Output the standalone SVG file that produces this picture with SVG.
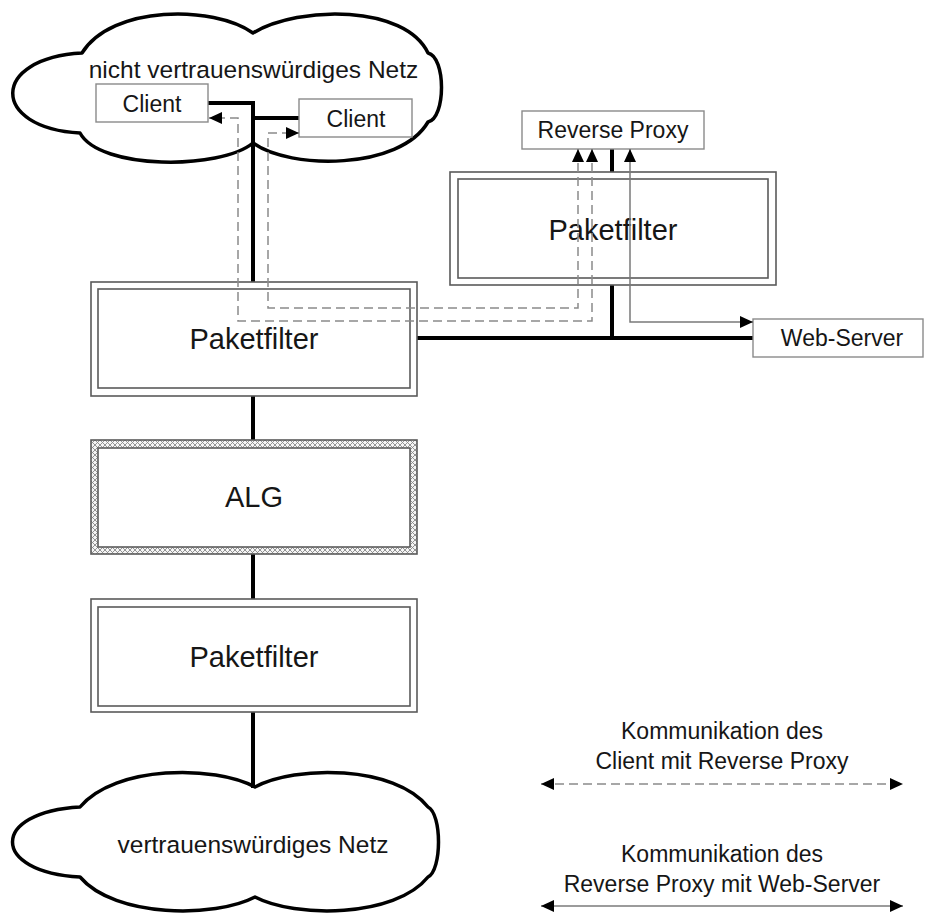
<svg xmlns="http://www.w3.org/2000/svg" width="926" height="916" viewBox="0 0 926 916">
<style>
text{font-family:"Liberation Sans",Arial,sans-serif;fill:#161616;text-anchor:middle}
.big{font-size:29px}
.sm{font-size:23px}
.cl{font-size:24.5px}
.cloud{fill:#fff;stroke:#000;stroke-width:3.5;stroke-linejoin:round}
.box{fill:#fff;stroke:#8a8a8a;stroke-width:1.4}
.frame{fill:#fff;stroke:#5a5a5a;stroke-width:1.6}
.thick{fill:none;stroke:#000;stroke-width:4}
.dash{fill:none;stroke:#8a8a8a;stroke-width:1.5;stroke-dasharray:9 5}
.thin{fill:none;stroke:#7a7a7a;stroke-width:1.5}
</style>
<defs>
<marker id="ah" viewBox="0 0 13 12" refX="13" refY="6" markerWidth="13" markerHeight="12" markerUnits="userSpaceOnUse" orient="auto-start-reverse">
<path d="M0,0 L13,6 L0,12 Z" fill="#000"/>
</marker>
<pattern id="hatch" width="5" height="5" patternUnits="userSpaceOnUse">
<rect width="5" height="5" fill="#f4f4f4"/>
<path d="M0,0 L5,5 M5,0 L0,5" stroke="#8a8a8a" stroke-width="0.9"/>
</pattern>
</defs>

<g id="cloud-untrusted">
<path class="cloud" d="M253,33 C213,5 112,5 82,53 C-10,58 -10,128 80,133 C100,170 220,170 253,143 C290,170 400,170 428,122 C446,118 446,57 428,53 C405,5 300,5 253,33 Z"/>
<text class="cl" x="253.5" y="78">nicht vertrauenswürdiges Netz</text>
</g>

<g id="cloud-trusted">
<path class="cloud" d="M255,787 C215,765 115,765 80,807 C-10,812 -10,872 80,877 C115,918 215,918 255,897 C295,918 395,918 428,877 C442,870 442,814 428,807 C395,765 295,765 255,787 Z"/>
<text class="cl" x="253" y="853">vertrauenswürdiges Netz</text>
</g>

<g id="connectors">
<path class="thick" d="M208,103 H253 V282"/>
<path class="thick" d="M253,118 H299"/>
<path class="thick" d="M253,396 V440"/>
<path class="thick" d="M253,554 V599"/>
<path class="thick" d="M253,712 V788"/>
<path class="thick" d="M612,149 V172"/>
<path class="thick" d="M612,285 V338"/>
<path class="thick" d="M417,338 H753"/>
</g>

<g id="client-1">
<rect class="box" x="96" y="84" width="112" height="38"/>
<text class="sm" x="152" y="112">Client</text>
</g>
<g id="client-2">
<rect class="box" x="299" y="99" width="113" height="38"/>
<text class="sm" x="356" y="127">Client</text>
</g>
<g id="reverse-proxy">
<rect class="box" x="522" y="111" width="182" height="38"/>
<text class="sm" x="613" y="138">Reverse Proxy</text>
</g>
<g id="web-server">
<rect class="box" x="753" y="319" width="170" height="38"/>
<text class="sm" x="842" y="346">Web-Server</text>
</g>

<g id="paketfilter-rp">
<rect class="frame" x="450" y="172" width="326" height="113"/>
<rect class="frame" x="458" y="179" width="310" height="99"/>
<text class="big" x="613" y="240">Paketfilter</text>
</g>
<g id="paketfilter-1">
<rect class="frame" x="91" y="282" width="326" height="114"/>
<rect class="frame" x="98" y="289" width="312" height="99"/>
<text class="big" x="254" y="349">Paketfilter</text>
</g>
<g id="alg">
<rect x="91" y="440" width="326" height="114" fill="url(#hatch)" stroke="#5a5a5a" stroke-width="1.6"/>
<rect class="frame" x="98" y="448" width="312" height="99"/>
<text class="big" x="254" y="507">ALG</text>
</g>
<g id="paketfilter-2">
<rect class="frame" x="91" y="599" width="326" height="113"/>
<rect class="frame" x="98" y="607" width="312" height="99"/>
<text class="big" x="254" y="667">Paketfilter</text>
</g>

<g id="flows">
<path class="dash" d="M592,149 V321 H238 V118 H209" marker-start="url(#ah)" marker-end="url(#ah)"/>
<path class="dash" d="M578,149 V308 H268 V133 H299" marker-start="url(#ah)" marker-end="url(#ah)"/>
<path class="thin" d="M630,149 V322 H753" marker-start="url(#ah)" marker-end="url(#ah)"/>
</g>

<g id="legend">
<text class="sm" x="722" y="739">Kommunikation des</text>
<text class="sm" x="722" y="769">Client mit Reverse Proxy</text>
<path class="dash" d="M541,784 H903" marker-start="url(#ah)" marker-end="url(#ah)"/>
<text class="sm" x="722" y="862">Kommunikation des</text>
<text class="sm" x="722" y="892">Reverse Proxy mit Web-Server</text>
<path class="thin" d="M541,906 H903" marker-start="url(#ah)" marker-end="url(#ah)"/>
</g>
</svg>
